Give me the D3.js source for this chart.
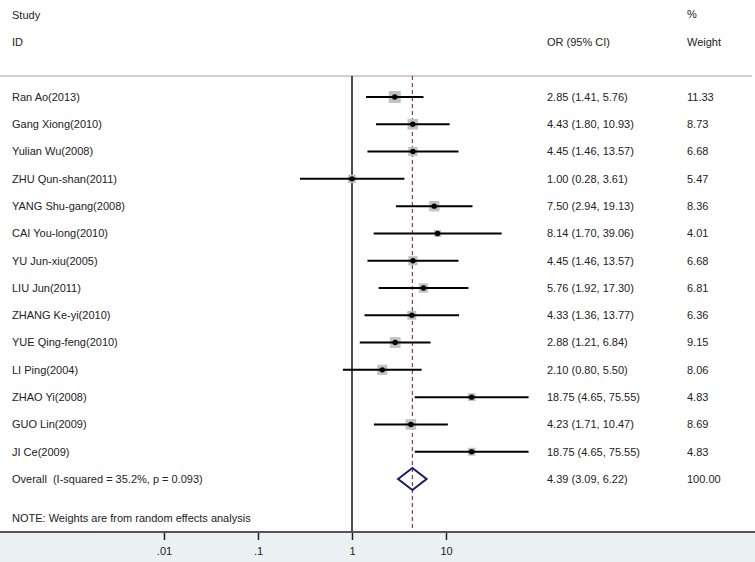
<!DOCTYPE html>
<html>
<head>
<meta charset="utf-8">
<script src="https://cdn.jsdelivr.net/npm/d3@7"></script>
<style>
  html, body { margin: 0; padding: 0; background: #fff; }
  svg { display: block; }
  text { font-family: "Liberation Sans", Arial, sans-serif; font-size: 11px; fill: #222; }
</style>
</head>
<body>
<svg id="chart" width="755" height="562"></svg>
<script>
const studies = ["Ran Ao(2013)", "Gang Xiong(2010)", "Yulian Wu(2008)", "ZHU Qun-shan(2011)",
  "YANG Shu-gang(2008)", "CAI You-long(2010)", "YU Jun-xiu(2005)", "LIU Jun(2011)",
  "ZHANG Ke-yi(2010)", "YUE Qing-feng(2010)", "LI Ping(2004)", "ZHAO Yi(2008)",
  "GUO Lin(2009)", "JI Ce(2009)"];
const orValues = [2.85, 4.43, 4.45, 1.00, 7.50, 8.14, 4.45, 5.76, 4.33, 2.88, 2.10, 18.75, 4.23, 18.75];
const ciLower  = [1.41, 1.80, 1.46, 0.28, 2.94, 1.70, 1.46, 1.92, 1.36, 1.21, 0.80, 4.65, 1.71, 4.65];
const ciUpper  = [5.76, 10.93, 13.57, 3.61, 19.13, 39.06, 13.57, 17.30, 13.77, 6.84, 5.50, 75.55, 10.47, 75.55];
const weights  = [11.33, 8.73, 6.68, 5.47, 8.36, 4.01, 6.68, 6.81, 6.36, 9.15, 8.06, 4.83, 8.69, 4.83];
const overallLabel = "Overall  (I-squared = 35.2%, p = 0.093)";
const overall = { or: 4.39, lo: 3.09, hi: 6.22, weight: 100.00 };
const tickValues = [0.01, 0.1, 1, 10];
const tickLabels = [".01", ".1", "1", "10"];
const noteText = "NOTE: Weights are from random effects analysis";

const svg = d3.select("#chart");
const W = 755, H = 562;
const topY = 76, axisY = 532;
const x = d3.scaleLog().domain([0.01, 10]).range([164, 446]);
const y = d3.scaleLinear().domain([0, 14]).range([97, 479]);
const boxSide = d3.scaleSqrt().domain([0, 11.33]).range([0, 12]);
const fmt = d3.format(".2f");

// axis background
svg.append("rect").attr("x", 0).attr("y", axisY).attr("width", W).attr("height", H - axisY).attr("fill", "#ebf0f3");

// header texts
svg.append("text").attr("x", 12).attr("y", 15).attr("dy", "0.35em").text("Study");
svg.append("text").attr("x", 12).attr("y", 42).attr("dy", "0.35em").text("ID");
svg.append("text").attr("x", 547).attr("y", 42).attr("dy", "0.35em").text("OR (95% CI)");
svg.append("text").attr("x", 687).attr("y", 14).attr("dy", "0.35em").text("%");
svg.append("text").attr("x", 687).attr("y", 42).attr("dy", "0.35em").text("Weight");

// header separator
svg.append("line").attr("x1", 0).attr("x2", 752).attr("y1", topY).attr("y2", topY)
  .attr("stroke", "#cfcfcf").attr("stroke-width", 2);

// no-effect line
svg.append("line").attr("x1", x(1)).attr("x2", x(1)).attr("y1", topY).attr("y2", axisY)
  .attr("stroke", "#111").attr("stroke-width", 1.5);

// overall dashed line
svg.append("line").attr("x1", x(overall.or)).attr("x2", x(overall.or)).attr("y1", topY).attr("y2", axisY)
  .attr("stroke", "#8e3a52").attr("stroke-width", 1.2).attr("stroke-dasharray", "4,3");

const rows = studies.map((s, i) => ({ s, or: orValues[i], lo: ciLower[i], hi: ciUpper[i], w: weights[i], i }));

const g = svg.append("g");
// boxes
g.selectAll("rect.box").data(rows).join("rect").attr("class", "box")
  .attr("x", d => x(d.or) - boxSide(d.w) / 2).attr("y", d => y(d.i) - boxSide(d.w) / 2)
  .attr("width", d => boxSide(d.w)).attr("height", d => boxSide(d.w))
  .attr("fill", "#c2c2c2");
// CI lines
g.selectAll("line.ci").data(rows).join("line").attr("class", "ci")
  .attr("x1", d => x(d.lo)).attr("x2", d => x(d.hi))
  .attr("y1", d => y(d.i)).attr("y2", d => y(d.i))
  .attr("stroke", "#000").attr("stroke-width", 2);
// point estimates
g.selectAll("circle.pt").data(rows).join("circle").attr("class", "pt")
  .attr("cx", d => x(d.or)).attr("cy", d => y(d.i)).attr("r", 2.7)
  .attr("fill", "#000");

// text columns
g.selectAll("text.study").data(rows).join("text").attr("class", "study")
  .attr("x", 12).attr("y", d => y(d.i)).attr("dy", "0.35em").text(d => d.s);
g.selectAll("text.or").data(rows).join("text").attr("class", "or")
  .attr("x", 547).attr("y", d => y(d.i)).attr("dy", "0.35em")
  .text(d => `${fmt(d.or)} (${fmt(d.lo)}, ${fmt(d.hi)})`);
g.selectAll("text.wt").data(rows).join("text").attr("class", "wt")
  .attr("x", 687).attr("y", d => y(d.i)).attr("dy", "0.35em").text(d => fmt(d.w));

// overall row
const oy = y(14);
svg.append("path")
  .attr("d", `M${x(overall.lo)},${oy} L${x(overall.or)},${oy - 11} L${x(overall.hi)},${oy} L${x(overall.or)},${oy + 11} Z`)
  .attr("fill", "none").attr("stroke", "#1c1c6b").attr("stroke-width", 2);
svg.append("text").attr("x", 12).attr("y", oy).attr("dy", "0.35em").style("white-space", "pre").text(overallLabel);
svg.append("text").attr("x", 547).attr("y", oy).attr("dy", "0.35em")
  .text(`${fmt(overall.or)} (${fmt(overall.lo)}, ${fmt(overall.hi)})`);
svg.append("text").attr("x", 687).attr("y", oy).attr("dy", "0.35em").text(fmt(overall.weight));

// note
svg.append("text").attr("x", 12).attr("y", 518).attr("dy", "0.35em").text(noteText);

// axis
const axis = d3.axisBottom(x).tickValues(tickValues)
  .tickFormat((d, i) => tickLabels[i]).tickSize(8).tickPadding(7);
const ag = svg.append("g").attr("transform", `translate(0,${axisY})`).call(axis);
ag.select(".domain").remove();
ag.selectAll(".tick line").attr("stroke", "#222").attr("stroke-width", 1.5);
ag.selectAll(".tick text").attr("font-family", "Liberation Sans, Arial, sans-serif").attr("font-size", 11).attr("fill", "#222");
svg.append("line").attr("x1", 0).attr("x2", W).attr("y1", axisY).attr("y2", axisY)
  .attr("stroke", "#555").attr("stroke-width", 2);
</script>
</body>
</html>
